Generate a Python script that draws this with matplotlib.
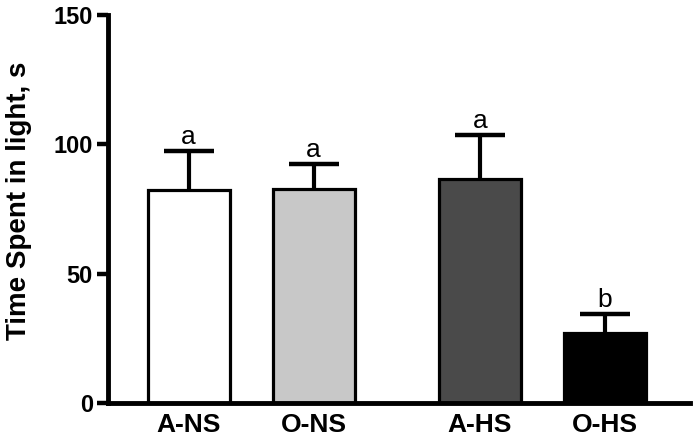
import matplotlib
matplotlib.use("Agg")
import matplotlib.pyplot as plt

categories = ["A-NS", "O-NS", "A-HS", "O-HS"]
means = [82.2, 82.8, 86.6, 27.0]
errors = [15.2, 9.4, 16.8, 7.2]
letters = ["a", "a", "a", "b"]
positions = [1.0, 2.0, 3.33, 4.33]
colors = ["#ffffff", "#c8c8c8", "#4a4a4a", "#000000"]

plt.rcParams['font.family'] = ['Liberation Sans', 'DejaVu Sans']

fig = plt.figure(figsize=(6.97, 4.38), dpi=100)
ax = fig.add_axes([0.155, 0.08, 0.835, 0.886])

ax.bar(positions, means, width=0.656, color=colors, edgecolor="black", linewidth=2.3, zorder=2)
eb = ax.errorbar(positions, means, yerr=[[0]*len(means), errors], fmt="none", ecolor="black",
                 elinewidth=3, capsize=18, capthick=3.2, zorder=3)
caplines = eb[1]
if len(caplines) == 2:
    caplines[0].set_visible(False)

for p, m, e, l in zip(positions, means, errors, letters):
    ax.text(p, m + e + 0.8, l, ha="center", va="bottom", fontsize=19)

ax.set_xlim(positions[0] - 0.644, positions[-1] + 0.68)
ax.set_ylim(0, 150)
ax.set_yticks([0, 50, 100, 150])
ax.set_xticks(positions)
ax.set_xticklabels(categories, fontsize=19, fontweight="bold")
ax.tick_params(axis="x", length=0, pad=7)
ax.tick_params(axis="y", length=8, width=3.2, labelsize=17, pad=3)
for lab in ax.get_yticklabels():
    lab.set_fontweight("bold")
ax.set_ylabel("Time Spent in light, s", fontsize=20, fontweight="bold", labelpad=12)
ax.yaxis.set_label_coords(-0.13, 0.52)

for s in ["top", "right"]:
    ax.spines[s].set_visible(False)
for s in ["left", "bottom"]:
    ax.spines[s].set_linewidth(3.5)

fig.savefig("out.png", dpi=100)
